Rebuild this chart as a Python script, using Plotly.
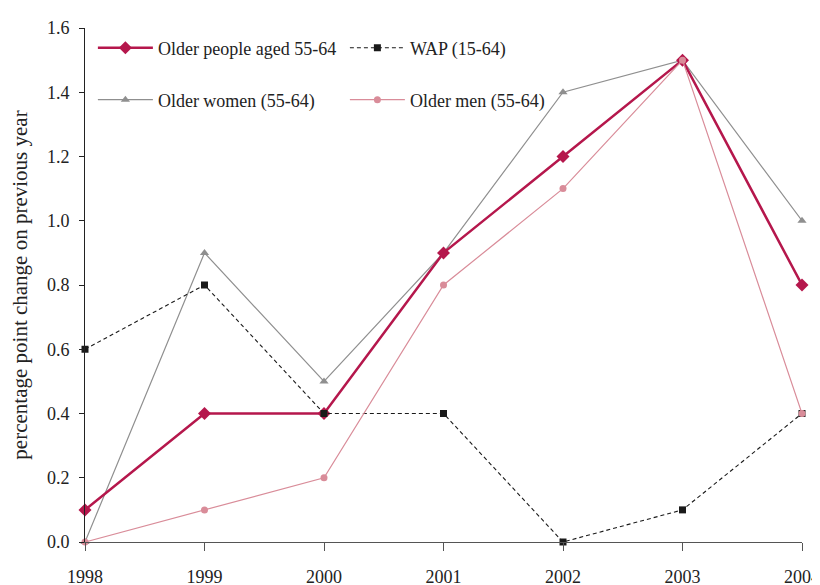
import plotly.graph_objects as go

years = [1998, 1999, 2000, 2001, 2002, 2003, 2004]
older_people = [0.1, 0.4, 0.4, 0.9, 1.2, 1.5, 0.8]
wap = [0.6, 0.8, 0.4, 0.4, 0.0, 0.1, 0.4]
older_women = [0.0, 0.9, 0.5, 0.9, 1.4, 1.5, 1.0]
older_men = [0.0, 0.1, 0.2, 0.8, 1.1, 1.5, 0.4]
y_ticks = [0.0, 0.2, 0.4, 0.6, 0.8, 1.0, 1.2, 1.4, 1.6]

FONT = "Liberation Serif, Times New Roman, serif"

fig = go.Figure()
fig.add_trace(go.Scatter(
    x=years, y=older_women, name="Older women (55-64)", mode="lines+markers",
    line=dict(color="#8f8f8f", width=1.2),
    marker=dict(symbol="triangle-up", size=8, color="#8f8f8f"),
    legend="legend2", cliponaxis=False))
fig.add_trace(go.Scatter(
    x=years, y=older_people, name="Older people aged 55-64", mode="lines+markers",
    line=dict(color="#b5174c", width=2.5),
    marker=dict(symbol="diamond", size=10, color="#b5174c"),
    legend="legend", cliponaxis=False))
fig.add_trace(go.Scatter(
    x=years, y=wap, name="WAP (15-64)", mode="lines+markers",
    line=dict(color="#1a1a1a", width=1.1, dash="4px,3px"),
    marker=dict(symbol="square", size=7, color="#1a1a1a"),
    legend="legend", cliponaxis=False))
fig.add_trace(go.Scatter(
    x=years, y=older_men, name="Older men (55-64)", mode="lines+markers",
    line=dict(color="#d98c99", width=1.2),
    marker=dict(symbol="circle", size=7, color="#d98c99"),
    legend="legend2", cliponaxis=False))

legend_common = dict(orientation="h", font=dict(family=FONT, size=18, color="#222"),
                     bgcolor="rgba(0,0,0,0)", entrywidth=182, entrywidthmode="pixels",
                     itemwidth=55, xanchor="left", yanchor="middle", traceorder="normal")

fig.update_layout(
    width=812, height=577,
    margin=dict(l=77, r=18, t=20, b=43),
    paper_bgcolor="white", plot_bgcolor="white",
    font=dict(family=FONT, size=18, color="#222"),
    showlegend=True,
    legend=dict(x=0.011, y=0.961, **legend_common),
    legend2=dict(x=0.011, y=0.860, **legend_common),
    xaxis=dict(
        range=[1998, 2004], tickmode="array", tickvals=years,
        ticktext=[str(y) for y in years], automargin=False,
        showgrid=False, zeroline=False, showline=True, linecolor="#555", linewidth=1.2,
        ticks="outside", ticklen=8, tickcolor="#555", tickwidth=1,
        ticklabelstandoff=10, tickfont=dict(family=FONT, size=18, color="#222")),
    yaxis=dict(
        range=[0, 1.6], tickmode="array", tickvals=y_ticks,
        ticktext=[f"{v:.1f}" for v in y_ticks], automargin=False,
        showgrid=False, zeroline=False, showline=True, linecolor="#222", linewidth=1,
        ticks="outside", ticklen=5, tickcolor="#222",
        ticklabelstandoff=6, tickfont=dict(family=FONT, size=18, color="#222"),
        title=dict(text="percentage point change on previous year",
                   font=dict(family=FONT, size=21, color="#222"), standoff=14)),
)

fig.write_html("out.html")
